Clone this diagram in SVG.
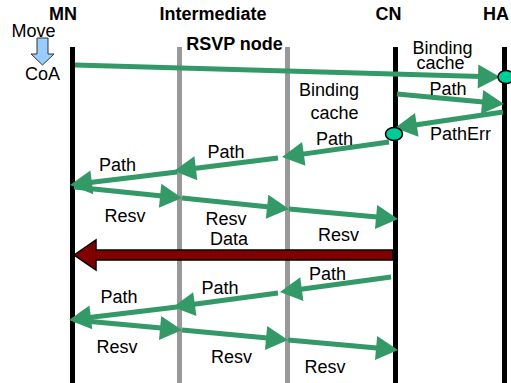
<svg xmlns="http://www.w3.org/2000/svg" width="511" height="383" viewBox="0 0 511 383">
<style>
text{font-family:"Liberation Sans",Arial,sans-serif;font-size:18px;fill:#000;text-anchor:middle}
.hdr{font-weight:bold}
.life{stroke:#000;stroke-width:5}
.inter{stroke:#999;stroke-width:5}
.msg{stroke:#339966;stroke-width:5;fill:none;marker-end:url(#ah)}
.dot{fill:#00cc99;stroke:#000;stroke-width:1.5}
</style>
<defs>
<marker id="ah" markerUnits="userSpaceOnUse" markerWidth="22" markerHeight="24" refX="12" refY="12" orient="auto" overflow="visible">
<path d="M0,0 L22,12 L0,24 z" fill="#339966"/>
</marker>
</defs>
<rect width="511" height="383" fill="#fff"/>
<g id="MN">
<line class="life" x1="72.5" y1="47" x2="72.5" y2="383"/>
<text class="hdr" x="63" y="20">MN</text>
<polygon points="37,38 48,38 48,54 54,54 42.5,65 31,54 37,54" fill="#99ccff" stroke="#333" stroke-width="1"/>
<text x="33.5" y="37">Move</text>
<text x="42.5" y="80">CoA</text>
</g>
<g id="Intermediate1">
<line class="inter" x1="179.5" y1="47" x2="179.5" y2="383"/>
<text class="hdr" x="213" y="20">Intermediate</text>
</g>
<g id="Intermediate2">
<line class="inter" x1="287.5" y1="47" x2="287.5" y2="383"/>
<text class="hdr" x="234.5" y="50">RSVP node</text>
</g>
<g id="CN">
<line class="life" x1="395.5" y1="47" x2="395.5" y2="383"/>
<text class="hdr" x="388.5" y="20">CN</text>
</g>
<g id="HA">
<line class="life" x1="504.5" y1="47" x2="504.5" y2="383"/>
<text class="hdr" x="496" y="20">HA</text>
</g>
<g id="connectors">
<line class="msg" x1="75" y1="65" x2="490" y2="76.72"/>
<line class="msg" x1="397" y1="94" x2="494.04" y2="103.07"/>
<line class="msg" x1="503" y1="112" x2="404.89" y2="126.53"/>
<line class="msg" x1="389" y1="142" x2="291.9" y2="155.61"/>
<line class="msg" x1="278" y1="158" x2="183.92" y2="169.76"/>
<line class="msg" x1="177" y1="172" x2="79.93" y2="183.79"/>
<line class="msg" x1="74" y1="187" x2="172.05" y2="196.99"/>
<line class="msg" x1="182" y1="198" x2="279.05" y2="207.98"/>
<line class="msg" x1="289" y1="209" x2="388.04" y2="218.09"/>
<polygon points="74,255 96,240 96,250 393,250 393,260 96,260 96,270" fill="#800000" stroke="#000" stroke-width="1.5"/>
<line class="msg" x1="391" y1="277" x2="289.91" y2="290.66"/>
<line class="msg" x1="278" y1="293" x2="182.91" y2="305.68"/>
<line class="msg" x1="177" y1="307" x2="78.93" y2="318.8"/>
<line class="msg" x1="74" y1="320" x2="172.04" y2="329.08"/>
<line class="msg" x1="182" y1="330" x2="278.04" y2="339.06"/>
<line class="msg" x1="288" y1="340" x2="388.04" y2="349.09"/>
</g>
<g id="HA-cache">
<ellipse class="dot" cx="506" cy="77" rx="8" ry="6.5"/>
</g>
<g id="CN-cache">
<ellipse class="dot" cx="394" cy="134" rx="8.5" ry="6.5"/>
</g>
<g id="labels">
<text x="442.5" y="54">Binding</text>
<text x="440.5" y="69">cache</text>
<text x="448" y="95">Path</text>
<text x="460.5" y="140">PathErr</text>
<text x="329" y="96">Binding</text>
<text x="334.5" y="119">cache</text>
<text x="334.5" y="145">Path</text>
<text x="226" y="158">Path</text>
<text x="117.5" y="171">Path</text>
<text x="125" y="222">Resv</text>
<text x="226" y="225">Resv</text>
<text x="229" y="245">Data</text>
<text x="338.5" y="241">Resv</text>
<text x="327.5" y="280">Path</text>
<text x="220" y="294">Path</text>
<text x="119" y="303">Path</text>
<text x="117" y="353">Resv</text>
<text x="231.5" y="363">Resv</text>
<text x="325" y="373">Resv</text>
</g>
</svg>
